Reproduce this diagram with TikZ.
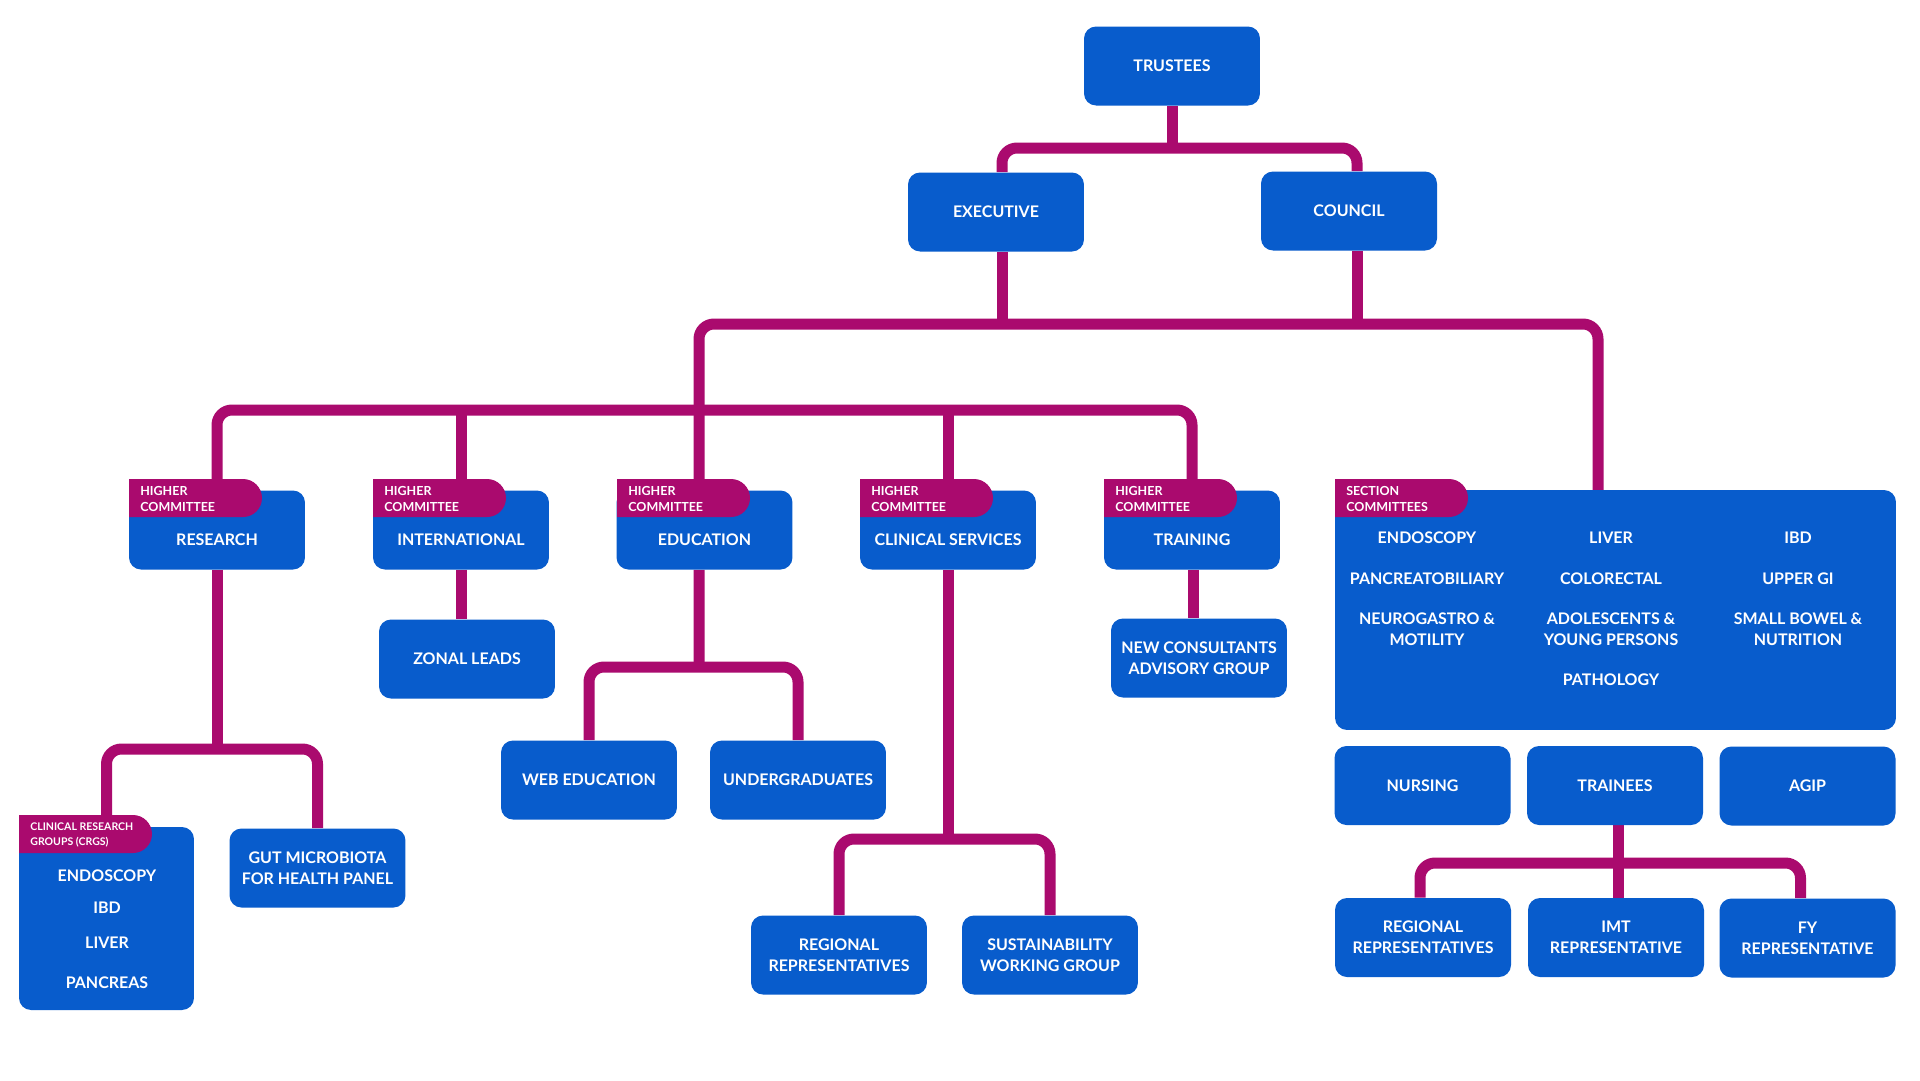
\documentclass[tikz,border=0pt]{standalone}
\usepackage{fontspec}
\setmainfont{Lato}
\usetikzlibrary{calc,backgrounds}
\definecolor{mBlue}{RGB}{8,92,204}
\definecolor{mMagenta}{RGB}{170,10,110}
\newcommand{\tagshape}[2]{\fill[mMagenta] (#1,#2) -- ++(114,0) arc[start angle=90, end angle=-90, radius=0.38cm] -- ++(-114,0) -- cycle;}
\tikzset{
  link/.style={draw=mMagenta, line width=0.22cm, rounded corners=0.3cm},
  box/.style={fill=mBlue, rounded corners=0.24cm, minimum width=3.52cm, minimum height=1.58cm, inner sep=0pt, text=white, align=center, font=\fontsize{9.1}{11.9}\selectfont\bfseries},
  lbl/.style={text=white, align=center, inner sep=0pt, font=\fontsize{9.1}{11.9}\selectfont\bfseries},
  tagtxt/.style={text=white, align=left, anchor=west, inner sep=0pt, font=\fontsize{7.1}{9.3}\selectfont\bfseries}
}
\begin{document}
\begin{tikzpicture}[x=0.02cm, y=-0.02cm]
  \node[box] (trustees) at (1172,66) {TRUSTEES};
  \node[box] (exec) at (996,212) {EXECUTIVE};
  \node[box] (council) at (1349,211) {COUNCIL};

  \node[box] (research) at (217,530) {};
  \node[box] (intl) at (461,530) {};
  \node[box] (edu) at (704.5,530) {};
  \node[box] (clin) at (948,530) {};
  \node[box] (train) at (1192,530) {};
  \node[box, minimum width=11.22cm, minimum height=4.8cm] (sections) at (1615.5,610) {};

  \node[box] (zonal) at (467,659) {ZONAL LEADS};
  \node[box] (newcons) at (1199,658) {NEW CONSULTANTS\\ADVISORY GROUP};
  \node[box] (web) at (589,780) {WEB EDUCATION};
  \node[box] (ugrad) at (798,780) {UNDERGRADUATES};
  \node[box, minimum width=3.5cm, minimum height=3.66cm] (crgs) at (106.5,918.5) {};
  \node[box] (gut) at (317.5,868) {GUT MICROBIOTA\\FOR HEALTH PANEL};
  \node[box] (reg1) at (839,955) {REGIONAL\\REPRESENTATIVES};
  \node[box] (sust) at (1050,955) {SUSTAINABILITY\\WORKING GROUP};
  \node[box] (nursing) at (1422.5,785.5) {NURSING};
  \node[box] (trainees) at (1615,785.5) {TRAINEES};
  \node[box] (agip) at (1807.5,786) {AGIP};
  \node[box] (reg2) at (1423,937.5) {REGIONAL\\REPRESENTATIVES};
  \node[box] (imt) at (1616,937.5) {IMT\\REPRESENTATIVE};
  \node[box] (fy) at (1807.5,938) {FY\\REPRESENTATIVE};

  \coordinate (bus0) at (1172,148);
  \coordinate (bus1) at (1000,324);
  \coordinate (bus2) at (699,410);
  \coordinate (bus3) at (699,667);
  \coordinate (bus4) at (217,749);
  \coordinate (bus5) at (948,839);
  \coordinate (bus6) at (1618,863);
  \coordinate (sectin) at (1598,490);

  \begin{scope}[on background layer]
    \fill[white] (0,0) rectangle (1920,1080);
    \draw[link] (trustees.south) -- (trustees.south |- bus0);
    \draw[link] ([xshift=0.12cm]exec.north) |- (bus0) -| ([xshift=0.16cm]council.north);
    \draw[link] ([xshift=0.12cm]exec.south) -- ([xshift=0.12cm]exec.south |- bus1);
    \draw[link] ([xshift=0.16cm]council.south) -- ([xshift=0.16cm]council.south |- bus1);
    \draw[link] ([xshift=-0.11cm]edu.north) |- (bus1) -| (sectin);
    \draw[link] (research.north) |- (bus2) -| (train.north);
    \draw[link] (intl.north) -- (intl.north |- bus2);
    \draw[link] (clin.north) -- (clin.north |- bus2);
    \draw[link] (intl.south) -- (intl.south |- zonal.north);
    \draw[link] ([xshift=-0.11cm]edu.south) -- (bus3);
    \draw[link] (web.north) |- (bus3) -| (ugrad.north);
    \draw[link] (research.south) -- (bus4);
    \draw[link] (crgs.north) |- (bus4) -| (gut.north);
    \draw[link] (clin.south) -- (bus5);
    \draw[link] (reg1.north) |- (bus5) -| (sust.north);
    \draw[link] ([xshift=0.02cm]train.south) -- ([xshift=0.02cm]train.south |- newcons.north);
    \draw[link] ([xshift=0.06cm]trainees.south) -- ([xshift=0.06cm]trainees.south |- imt.north);
    \draw[link] ([xshift=-0.06cm]reg2.north) |- (bus6) -| ([xshift=-0.14cm]fy.north);
  \end{scope}

  \tagshape{129}{479}
  \tagshape{373}{479}
  \tagshape{617}{479}
  \tagshape{860}{479}
  \tagshape{1104}{479}
  \tagshape{1335}{479}
  \tagshape{19}{815}

  \node[tagtxt] (researchtag) at (140,499) {HIGHER\\COMMITTEE};
  \node[tagtxt] (intltag) at (384,499) {HIGHER\\COMMITTEE};
  \node[tagtxt] (edutag) at (628,499) {HIGHER\\COMMITTEE};
  \node[tagtxt] (clintag) at (871,499) {HIGHER\\COMMITTEE};
  \node[tagtxt] (traintag) at (1115,499) {HIGHER\\COMMITTEE};
  \node[tagtxt] (sectionstag) at (1346,499) {SECTION\\COMMITTEES};
  \node[tagtxt, font=\fontsize{6.0}{8.6}\selectfont\bfseries] (crgstag) at (30,835) {CLINICAL RESEARCH\\GROUPS (CRGS)};

  \node[lbl] (researchlbl) at (217,540) {RESEARCH};
  \node[lbl] (intllbl) at (461,540) {INTERNATIONAL};
  \node[lbl] (edulbl) at (704.5,540) {EDUCATION};
  \node[lbl] (clinlbl) at (948,540) {CLINICAL SERVICES};
  \node[lbl] (trainlbl) at (1192,540) {TRAINING};

  \node[lbl] (s1) at (1427,538) {ENDOSCOPY};
  \node[lbl] (s2) at (1611,538) {LIVER};
  \node[lbl] (s3) at (1798,538) {IBD};
  \node[lbl] (s4) at (1427,579) {PANCREATOBILIARY};
  \node[lbl] (s5) at (1611,579) {COLORECTAL};
  \node[lbl] (s6) at (1798,579) {UPPER GI};
  \node[lbl] (s7) at (1427,629.5) {NEUROGASTRO \&\\MOTILITY};
  \node[lbl] (s8) at (1611,629.5) {ADOLESCENTS \&\\YOUNG PERSONS};
  \node[lbl] (s9) at (1798,629.5) {SMALL BOWEL \&\\NUTRITION};
  \node[lbl] (s10) at (1611,680) {PATHOLOGY};

  \node[lbl] (c1) at (107,876) {ENDOSCOPY};
  \node[lbl] (c2) at (107,908) {IBD};
  \node[lbl] (c3) at (107,943) {LIVER};
  \node[lbl] (c4) at (107,983) {PANCREAS};
\end{tikzpicture}
\end{document}
